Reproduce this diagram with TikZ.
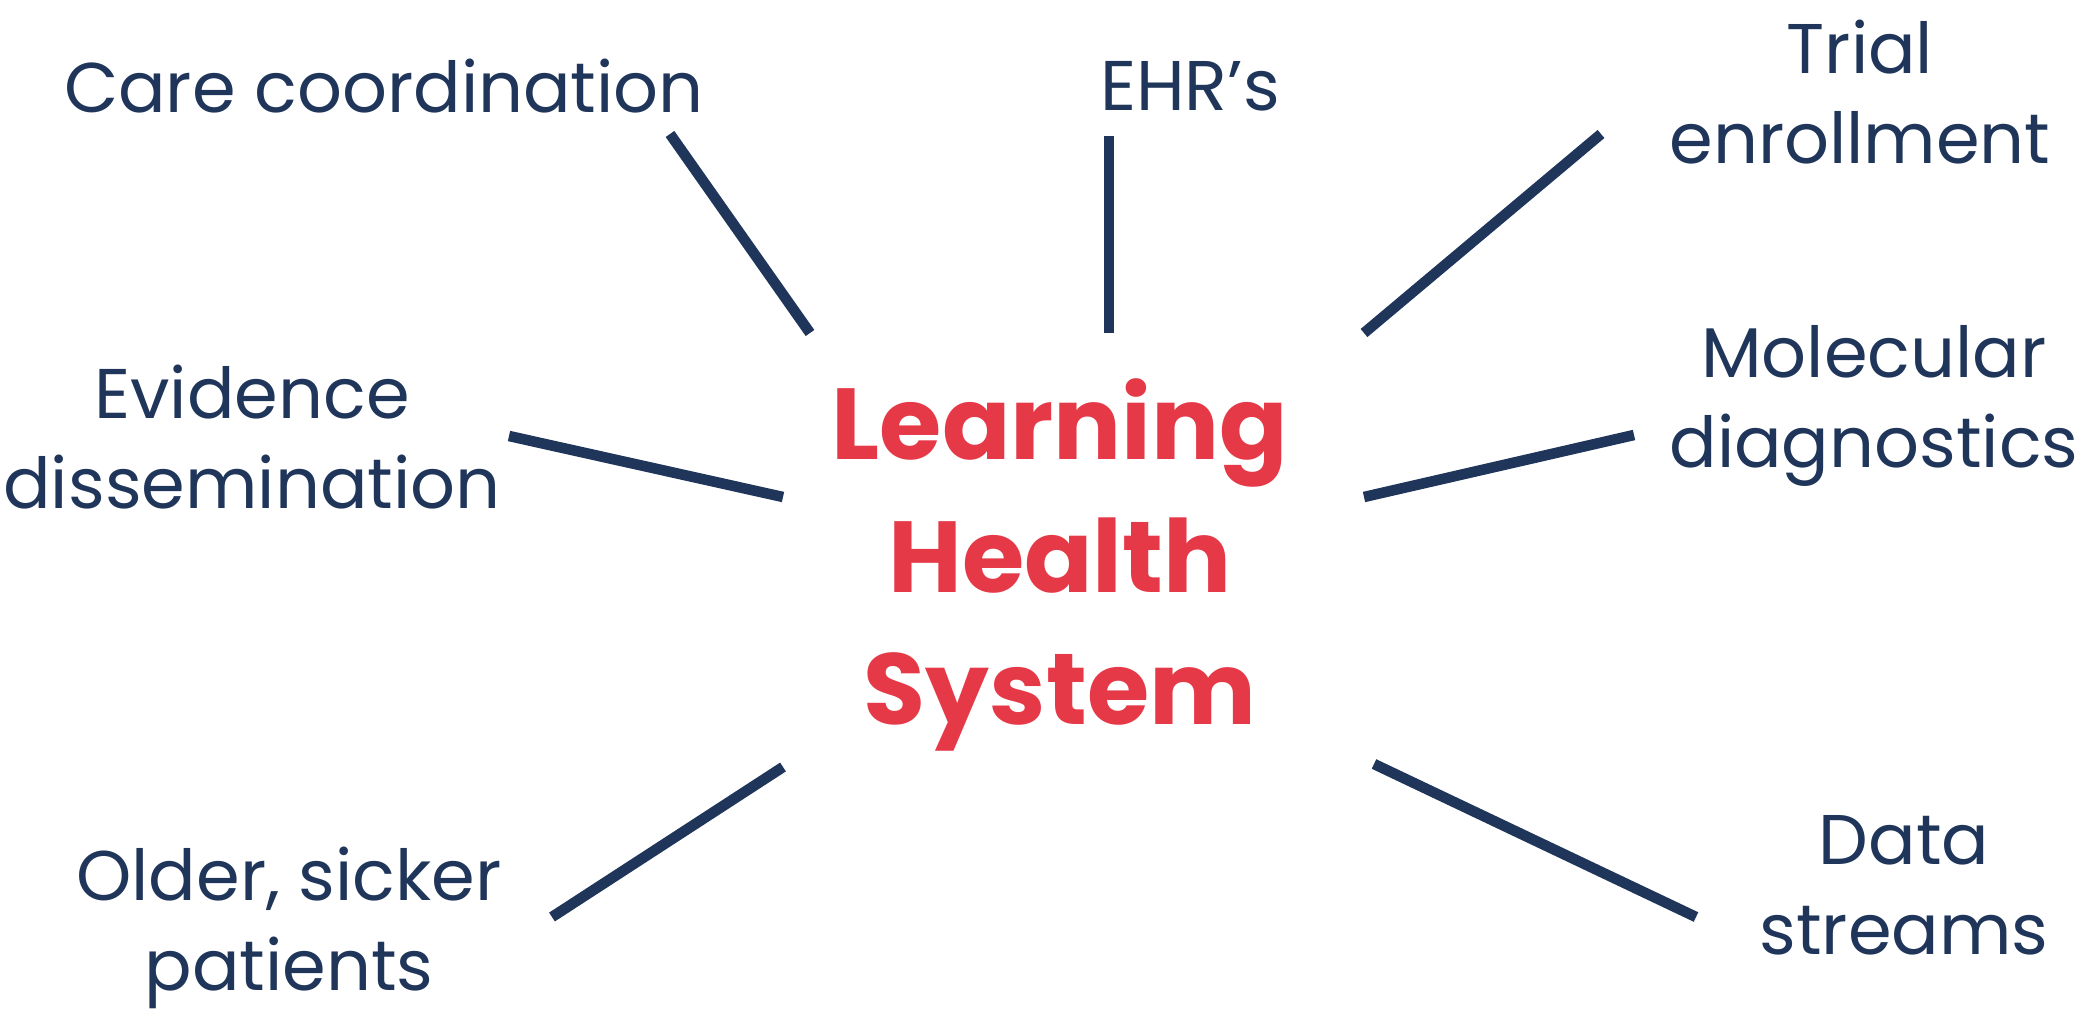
\documentclass[tikz,border=0pt]{standalone}
\usepackage{fontspec}
\setmainfont{Poppins}
\usepackage{tikz}

\begin{document}
\begin{tikzpicture}[x=0.01cm,y=-0.01cm,
  spoke/.style={line width=3pt,color=lineColor},
  topic/.style={color=lineColor,align=center,inner sep=0pt,font=\fontsize{20}{25.5}\selectfont},
  hub/.style={color=hubColor,align=center,inner sep=0pt,font=\bfseries\fontsize{28.7}{37.7}\selectfont}]
\definecolor{lineColor}{RGB}{31,53,89}
\definecolor{hubColor}{RGB}{230,57,72}
\useasboundingbox (0,0) rectangle (2097,1015);
% centre
\node[hub] (hub) at (1060,565) {Learning\\Health\\System};
% labels round the centre
\node[topic] (care) at (384,86) {Care coordination};
\node[topic] (ehr) at (1190,86) {EHR's};
\node[topic] (trial) at (1860,92) {Trial\\enrollment};
\node[topic] (evidence) at (252,437) {Evidence\\dissemination};
\node[topic] (molecular) at (1874,406) {Molecular\\diagnostics};
\node[topic] (older) at (289,928) {Older, sicker\\patients};
\node[topic] (data) at (1904,885) {Data\\streams};
% spoke ends
\coordinate (careA) at (670,134);  \coordinate (careB) at (810,333);
\coordinate (ehrA) at (1109,136);  \coordinate (ehrB) at (1109,333);
\coordinate (trialA) at (1601,134); \coordinate (trialB) at (1364,333);
\coordinate (evidenceA) at (509,436); \coordinate (evidenceB) at (783,497);
\coordinate (moleculaA) at (1634,435); \coordinate (moleculaB) at (1364,497);
\coordinate (olderA) at (552,917); \coordinate (olderB) at (783,767);
\coordinate (dataA) at (1696,917); \coordinate (dataB) at (1374,764);
\foreach \a/\b in {careA/careB,ehrA/ehrB,trialA/trialB,evidenceA/evidenceB,moleculaA/moleculaB,olderA/olderB,dataA/dataB}
  \draw[spoke] (\a) -- (\b);
\end{tikzpicture}
\end{document}
